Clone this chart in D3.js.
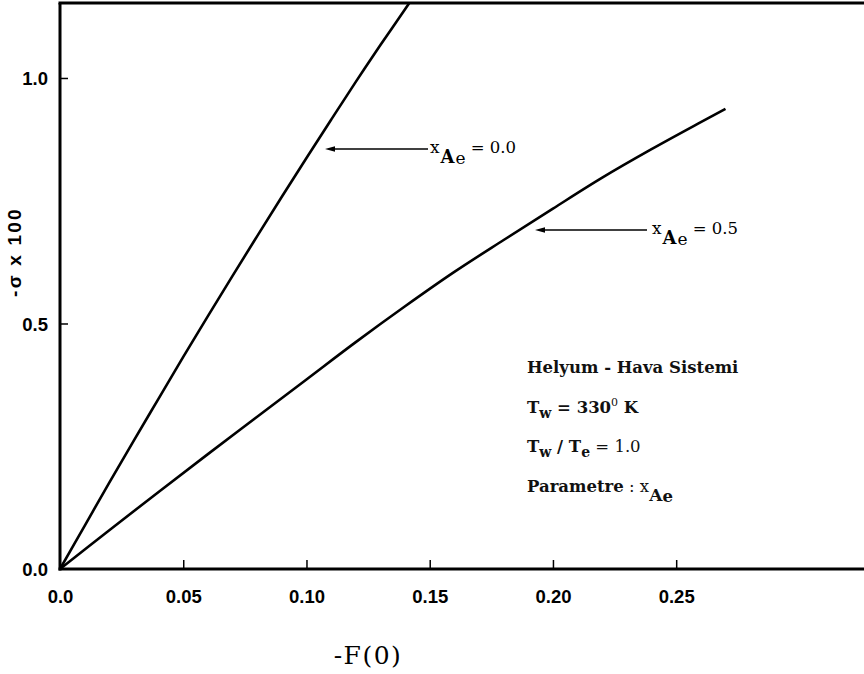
<!DOCTYPE html>
<html>
<head>
<meta charset="utf-8">
<script src="https://cdn.jsdelivr.net/npm/d3@7"></script>
<style>
  html, body { margin: 0; padding: 0; background: #fff; }
  svg { display: block; }
</style>
</head>
<body>
<svg id="chart" width="864" height="674"></svg>
<script>
// ---- data ----
const xTicks = [0.0, 0.05, 0.10, 0.15, 0.20, 0.25];
const xTickLabels = ["0.0", "0.05", "0.10", "0.15", "0.20", "0.25"];
const yTicks = [0.0, 0.5, 1.0];
const yTickLabels = ["0.0", "0.5", "1.0"];

// x_Ae = 0.0
const seriesA_x = [0, 0.01, 0.02, 0.03, 0.04, 0.05, 0.06, 0.07, 0.08, 0.09, 0.10, 0.11, 0.12, 0.13, 0.1418];
const seriesA_y = [0, 0.088, 0.176, 0.262, 0.347, 0.432, 0.515, 0.597, 0.678, 0.758, 0.837, 0.915, 0.992, 1.067, 1.153];
// x_Ae = 0.5
const seriesB_x = [0, 0.02, 0.04, 0.06, 0.08, 0.10, 0.12, 0.14, 0.16, 0.18, 0.20, 0.22, 0.24, 0.26, 0.27];
const seriesB_y = [0, 0.079, 0.157, 0.234, 0.310, 0.386, 0.462, 0.535, 0.605, 0.670, 0.734, 0.797, 0.855, 0.910, 0.937];

const seriesNames = ["0.0", "0.5"];

// ---- layout ----
const svg = d3.select("#chart");
const x = d3.scaleLinear().domain([0, 0.3262]).range([60, 864]);
const y = d3.scaleLinear().domain([0, 1.1527]).range([569, 3]);

const sans = "'Liberation Sans', Arial, sans-serif";
const serif = "'DejaVu Serif', 'Liberation Serif', serif";

// frame: left, bottom, top
const xMax = x.domain()[1], yMax = y.domain()[1];
svg.append("line").attr("x1", x(0)).attr("x2", x(0)).attr("y1", y(0) + 1.5).attr("y2", y(yMax))
  .attr("stroke", "#000").attr("stroke-width", 3);
svg.append("line").attr("x1", x(0) - 1.5).attr("x2", x(xMax)).attr("y1", y(0)).attr("y2", y(0))
  .attr("stroke", "#000").attr("stroke-width", 3);
svg.append("line").attr("x1", x(0) - 1.5).attr("x2", x(xMax)).attr("y1", y(yMax)).attr("y2", y(yMax))
  .attr("stroke", "#000").attr("stroke-width", 3);

// x axis ticks and labels
const xAxis = d3.axisBottom(x).tickValues(xTicks).tickSize(0).tickPadding(0)
  .tickFormat((d, i) => xTickLabels[i]);
const gx = svg.append("g").attr("transform", `translate(0,${y(0)})`).call(xAxis);
gx.select(".domain").remove();
gx.selectAll(".tick text").attr("y", 34).attr("dy", 0)
  .style("font-family", sans).style("font-weight", "bold").style("font-size", "18.5px").attr("fill", "#000");
gx.selectAll(".tick").filter(d => d > 0).append("line")
  .attr("y1", 0).attr("y2", -9).attr("stroke", "#000").attr("stroke-width", 1.5);

// y axis ticks and labels
const yAxis = d3.axisLeft(y).tickValues(yTicks).tickSize(0).tickPadding(0)
  .tickFormat((d, i) => yTickLabels[i]);
const gy = svg.append("g").attr("transform", `translate(${x(0)},0)`).call(yAxis);
gy.select(".domain").remove();
gy.selectAll(".tick text").attr("x", -12).attr("dy", "0.36em")
  .style("font-family", sans).style("font-weight", "bold").style("font-size", "18.5px").attr("fill", "#000");
gy.selectAll(".tick").filter(d => d > 0).append("line")
  .attr("x1", 0).attr("x2", 8).attr("stroke", "#000").attr("stroke-width", 1.5);

// curves
const line = d3.line().x(d => x(d[0])).y(d => y(d[1])).curve(d3.curveCatmullRom.alpha(0.5));
const dataA = seriesA_x.map((v, i) => [v, seriesA_y[i]]);
const dataB = seriesB_x.map((v, i) => [v, seriesB_y[i]]);
[dataA, dataB].forEach(d => {
  svg.append("path").datum(d).attr("d", line)
    .attr("fill", "none").attr("stroke", "#000").attr("stroke-width", 2.6).attr("stroke-linejoin", "round");
});

// arrows with labels
function arrow(tipX, endX, yy) {
  svg.append("line").attr("x1", tipX + 6).attr("x2", endX).attr("y1", yy).attr("y2", yy)
    .attr("stroke", "#000").attr("stroke-width", 1.3);
  svg.append("path")
    .attr("d", `M${tipX},${yy} L${tipX + 10},${yy - 2.8} L${tipX + 10},${yy + 2.8} Z`)
    .attr("fill", "#000");
}
function xaeLabel(tx, ty, val) {
  const t = svg.append("text").attr("x", tx).attr("y", ty)
    .style("font-family", serif).style("font-size", "17px").attr("fill", "#000");
  t.append("tspan").text("x");
  t.append("tspan").attr("dy", 10).attr("dx", 1).style("font-size", "18px").style("font-weight", "bold").text("A");
  t.append("tspan").attr("dy", 1).attr("dx", 1).style("font-size", "17px").text("e");
  t.append("tspan").attr("dy", -11).attr("dx", 5).style("font-size", "16.5px").text("= " + val);
}
// label 0.0
arrow(325, 428, 149);
xaeLabel(430, 153, seriesNames[0]);
// label 0.5
arrow(535, 647, 230);
xaeLabel(652, 234, seriesNames[1]);

// annotation block
const ann = svg.append("g").style("font-family", serif).style("font-weight", "bold")
  .style("font-size", "16.5px").attr("fill", "#111");
ann.append("text").attr("x", 527).attr("y", 373).text("Helyum - Hava Sistemi");
const t2 = ann.append("text").attr("x", 527).attr("y", 413);
t2.append("tspan").text("T");
t2.append("tspan").attr("dy", 5).style("font-size", "14px").text("w");
t2.append("tspan").attr("dy", -5).text(" = 330");
t2.append("tspan").attr("dy", -7).style("font-size", "11px").style("font-weight", "normal").text("0");
t2.append("tspan").attr("dy", 7).text(" K");
const t3 = ann.append("text").attr("x", 527).attr("y", 452);
t3.append("tspan").text("T");
t3.append("tspan").attr("dy", 5).style("font-size", "14px").text("w");
t3.append("tspan").attr("dy", -5).text(" / T");
t3.append("tspan").attr("dy", 5).style("font-size", "14px").text("e");
t3.append("tspan").attr("dy", -5).style("font-weight", "normal").text(" = 1.0");
const t4 = ann.append("text").attr("x", 527).attr("y", 492);
t4.append("tspan").text("Parametre");
t4.append("tspan").style("font-weight", "normal").text(" : x");
t4.append("tspan").attr("dy", 9).style("font-size", "17px").text("A");
t4.append("tspan").attr("dy", 1).text("e");

// axis titles
svg.append("text").attr("x", 368).attr("y", 664).attr("text-anchor", "middle")
  .style("font-family", serif).style("font-size", "25px").style("letter-spacing", "1.5px")
  .attr("fill", "#000").text("-F(0)");
svg.append("text").attr("transform", "translate(21,252) rotate(-90)").attr("text-anchor", "middle")
  .style("font-family", sans).style("font-weight", "bold").style("font-size", "19px")
  .style("letter-spacing", "2.2px").attr("fill", "#000").text("-σ x 100");
</script>
</body>
</html>
